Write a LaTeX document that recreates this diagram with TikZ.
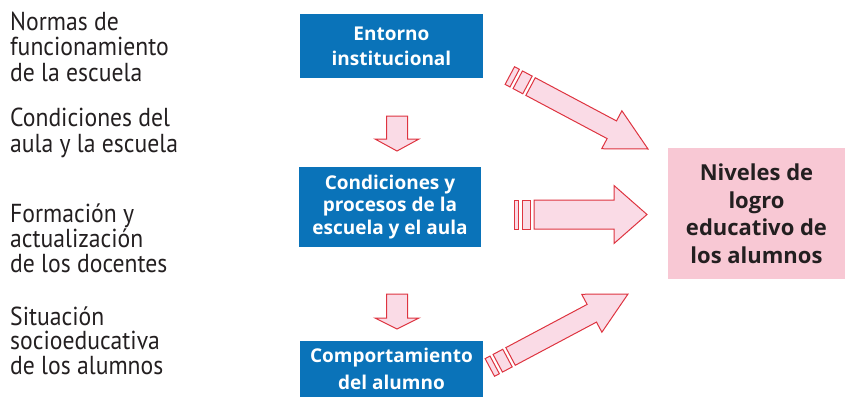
\documentclass[tikz,border=0pt]{standalone}
\usepackage{fontspec}
\setmainfont{PT Sans}
\newfontfamily\leftfont[FakeStretch=0.91]{PT Sans}
\newfontfamily\boldfont{Open Sans}
\definecolor{boxblue}{RGB}{10,115,185}
\definecolor{boxpink}{RGB}{248,200,212}
\definecolor{arrfill}{RGB}{250,219,230}
\definecolor{arrdraw}{RGB}{222,52,64}
\definecolor{txtdark}{RGB}{35,31,32}
\newcommand{\arrbody}[6]{% tip, angle, H, L, w, bodylen
\begin{scope}[shift={#1}, rotate=#2, x=1pt, y=1pt]
\draw[arr] (0,0) -- (-#4,#3) -- (-#4,#5) -- ({-#4-#6},#5) -- ({-#4-#6},-#5) -- (-#4,-#5) -- (-#4,-#3) -- cycle;
\end{scope}}
\newcommand{\arrrects}[7]{% tip, angle, start, w, r2, r1, gap
\begin{scope}[shift={#1}, rotate=#2, x=1pt, y=1pt]
\draw[arr] ({-#3-#7},#4) rectangle ({-#3-#7-#5},-#4);
\draw[arr] ({-#3-2*#7-#5},#4) rectangle ({-#3-2*#7-#5-#6},-#4);
\end{scope}}
\begin{document}
\begin{tikzpicture}[x=1pt,y=-1pt,
  arr/.style={draw=arrdraw, fill=arrfill, line width=1pt, line join=miter},
  bluebox/.style={fill=boxblue, text=white, align=center, inner sep=0pt,
    font={\boldfont\bfseries\fontsize{19}{25}\selectfont}},
  goalbox/.style={fill=boxpink, text=txtdark, align=center, inner sep=0pt,
    font={\boldfont\bfseries\fontsize{22}{27.5}\selectfont}},
  lt/.style={anchor=base west, inner sep=0pt, text=txtdark,
    font={\leftfont\fontsize{26}{26}\selectfont}}]
\useasboundingbox (0,0) rectangle (847,397);
% left texts
\node[lt] (l1) at (10,30) {Normas de};
\node[lt] (l2) at (10,55.5) {funcionamiento};
\node[lt] (l3) at (10,81) {de la escuela};
\node[lt] (l4) at (10,126) {Condiciones del};
\node[lt] (l5) at (10,152) {aula y la escuela};
\node[lt] (l6) at (10,222) {Formación y};
\node[lt] (l7) at (10,247) {actualización};
\node[lt] (l8) at (10,272) {de los docentes};
\node[lt] (l9) at (10,325) {Situación};
\node[lt] (l10) at (10,349.5) {socioeducativa};
\node[lt] (l11) at (10,374) {de los alumnos};
% boxes
\node[bluebox, minimum width=183pt, minimum height=64pt] (b1) at (391.5,46) {Entorno\\institucional};
\node[bluebox, minimum width=182pt, minimum height=80pt, font={\boldfont\bfseries\fontsize{19}{22.5}\selectfont}] (b2) at (390,207) {Condiciones y\\procesos de la\\escuela y el aula};
\node[bluebox, minimum width=183pt, minimum height=56pt, font={\boldfont\bfseries\fontsize{19}{27}\selectfont}] (b3) at (391.5,369) {Comportamiento\\del alumno};
\node[goalbox, minimum width=177pt, minimum height=131pt] (g) at (756.5,213.5) {Niveles de\\logro\\educativo de\\los alumnos};
% down arrows
\arrbody{(397,151)}{-90}{22}{12}{10.5}{23}
\arrbody{(397,329)}{-90}{22}{11}{10.5}{24}
% horizontal arrow
\arrbody{(647,214.5)}{0}{29}{33}{14.5}{80}
\arrrects{(647,214.5)}{0}{113}{14.5}{8}{4}{4}
% diagonal arrows
\arrbody{(648,149)}{-28}{21.5}{41}{10}{92}
\arrrects{(648,149)}{-28}{133}{10}{11}{5.5}{3.5}
\arrbody{(628,294)}{28}{21.5}{41}{10}{92}
\arrrects{(628,294)}{28}{133}{10}{11}{5.5}{3.5}
\end{tikzpicture}
\end{document}
